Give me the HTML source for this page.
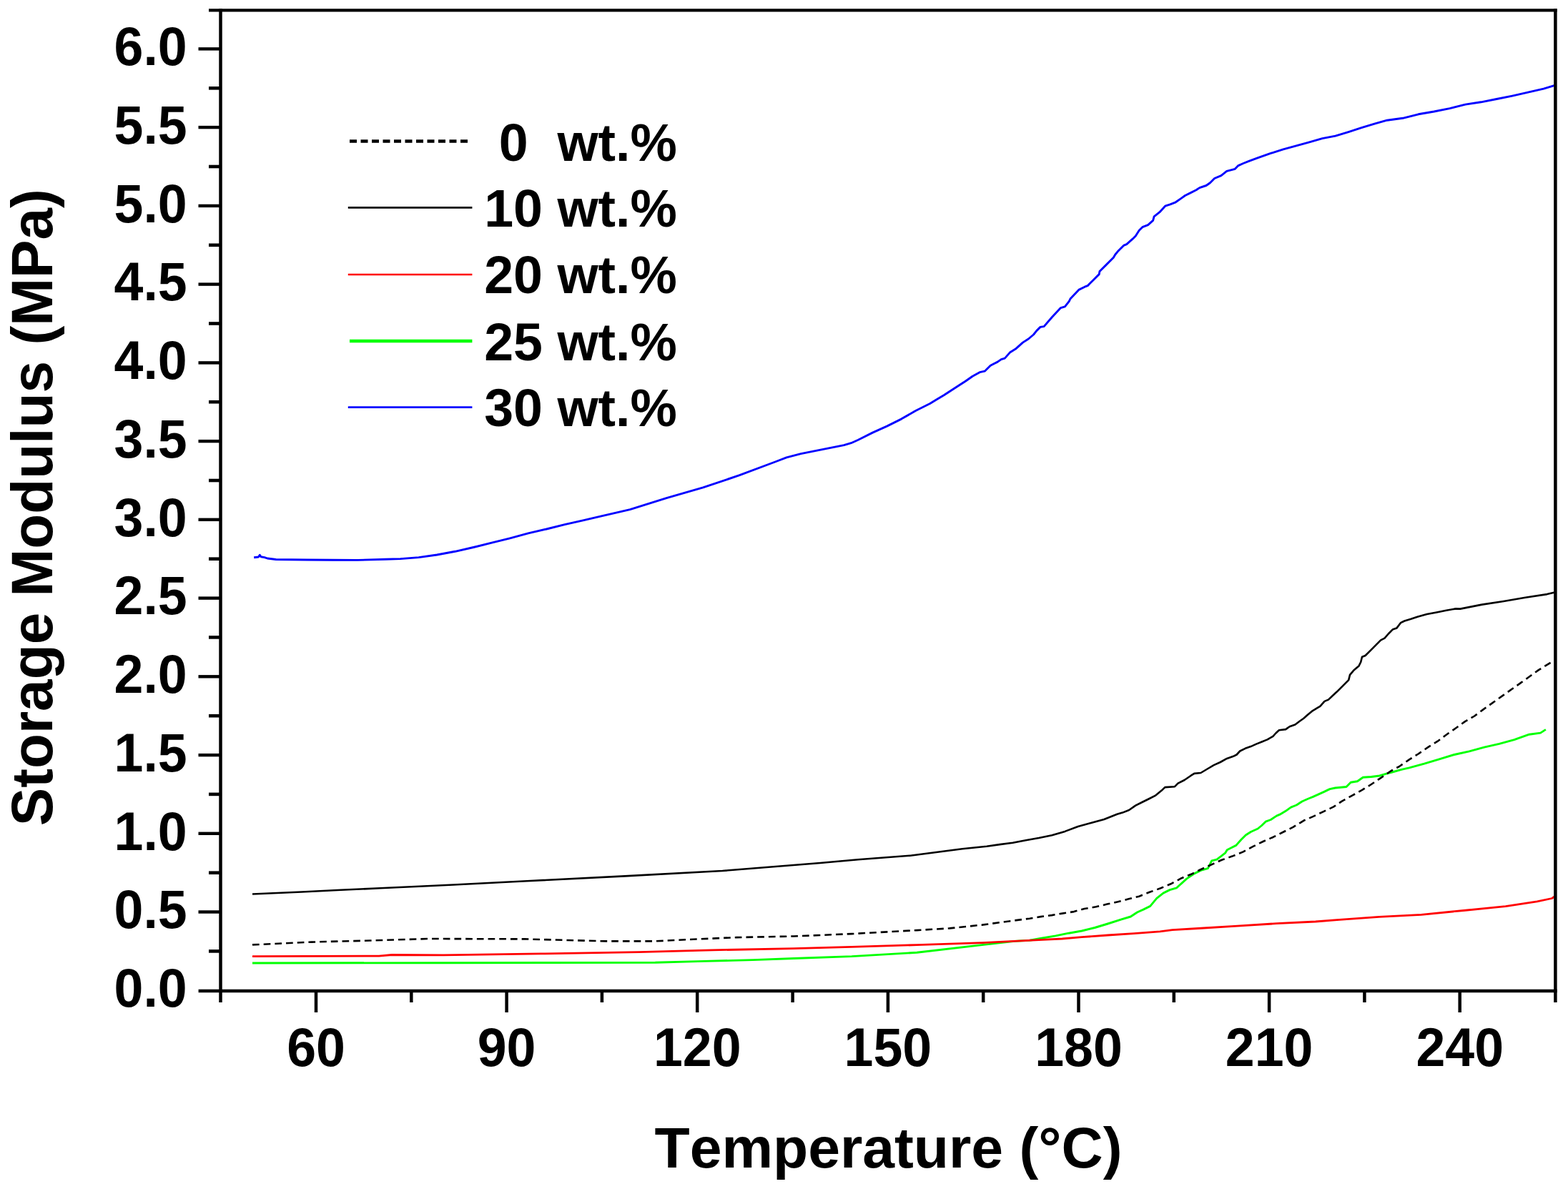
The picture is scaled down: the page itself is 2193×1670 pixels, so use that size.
<!DOCTYPE html>
<html><head><meta charset="utf-8"><title>Storage Modulus vs Temperature</title>
<style>
html,body{margin:0;padding:0;background:#fff;}
body{width:2193px;height:1670px;overflow:hidden;}
svg{display:block;}
text{font-family:"Liberation Sans",Arial,sans-serif;font-weight:bold;fill:#000;font-kerning:none;}
</style></head><body>
<svg width="2193" height="1670" viewBox="0 0 2193 1670">
<rect x="0" y="0" width="2193" height="1670" fill="#fff"/>
<g fill="none" stroke-linejoin="round" stroke-linecap="butt">
<polyline stroke="#00ff00" stroke-width="2.9" points="353.0,1347.0 620.0,1346.7 916.4,1346.2 984.8,1344.4 1053.2,1342.6 1110.0,1340.5 1191.2,1337.6 1282.4,1332.3 1373.6,1321.6 1419.2,1316.4 1440.0,1315.2 1458.2,1312.0 1476.5,1308.9 1494.7,1305.2 1513.0,1302.0 1531.2,1297.5 1549.4,1292.0 1567.7,1286.1 1581.4,1282.0 1590.5,1276.0 1599.6,1271.9 1608.7,1267.4 1617.8,1256.4 1627.0,1249.1 1636.1,1244.6 1645.7,1241.8 1659.6,1229.1 1670.4,1221.9 1679.4,1217.4 1689.3,1214.7 1692.0,1209.3 1694.7,1203.9 1701.8,1202.1 1709.0,1196.7 1713.5,1193.2 1716.2,1188.7 1721.6,1186.0 1728.8,1182.4 1736.0,1174.3 1742.3,1168.0 1749.4,1163.5 1759.3,1159.0 1764.7,1154.5 1770.1,1149.2 1777.3,1146.5 1785.4,1141.1 1790.0,1139.2 1797.8,1134.6 1805.5,1129.1 1813.3,1126.0 1821.0,1121.0 1828.8,1117.5 1836.5,1114.4 1844.3,1110.9 1852.0,1107.4 1859.8,1103.6 1867.5,1102.0 1875.3,1101.2 1883.0,1100.5 1889.2,1094.3 1898.5,1092.7 1906.3,1087.3 1917.9,1086.5 1929.5,1085.0 1937.3,1082.6 1948.9,1079.5 1960.0,1076.4 1971.0,1073.9 1992.0,1068.1 2012.9,1061.8 2033.9,1055.5 2054.9,1050.8 2075.9,1045.1 2096.8,1040.3 2117.8,1034.6 2138.8,1027.2 2154.5,1025.1 2161.9,1020.4"/>
<polyline stroke="#ff0000" stroke-width="2.8" points="353.0,1337.7 530.0,1337.1 548.0,1335.5 620.0,1335.8 756.8,1333.9 893.6,1331.7 996.2,1328.9 1110.0,1326.6 1191.2,1324.4 1282.4,1321.6 1373.6,1318.7 1458.2,1314.3 1485.6,1313.0 1513.0,1310.7 1549.4,1308.0 1585.9,1305.7 1622.4,1302.9 1639.7,1300.6 1675.8,1298.5 1730.5,1295.1 1785.2,1291.7 1839.9,1289.0 1870.0,1286.7 1928.9,1282.3 1987.8,1279.3 2046.8,1273.5 2105.7,1267.6 2149.9,1260.9 2170.5,1256.5 2174.5,1253.6"/>
<polyline stroke="#000" stroke-width="2.6" stroke-dasharray="9.7 6" points="353.0,1321.4 435.8,1317.6 517.8,1315.5 600.0,1313.0 734.0,1313.4 802.4,1315.2 848.0,1316.4 916.4,1316.4 962.0,1314.1 1030.4,1311.1 1110.0,1309.5 1191.2,1306.1 1282.4,1301.1 1328.0,1298.4 1373.6,1293.6 1419.2,1287.4 1440.0,1284.7 1455.5,1282.1 1471.0,1280.1 1485.6,1277.6 1502.0,1275.1 1516.6,1271.0 1533.0,1268.3 1548.5,1264.6 1563.6,1261.2 1578.6,1257.3 1593.2,1253.7 1607.8,1247.8 1623.3,1242.3 1637.5,1236.3 1652.5,1228.2 1665.9,1222.8 1678.5,1216.5 1696.5,1208.4 1708.1,1203.0 1723.4,1197.6 1738.7,1191.4 1752.1,1184.2 1766.5,1177.0 1780.9,1170.7 1795.2,1163.5 1808.5,1156.9 1823.3,1147.8 1837.3,1141.6 1850.5,1135.3 1865.2,1128.4 1876.8,1120.6 1890.8,1112.9 1904.7,1105.1 1917.9,1097.0 1931.1,1088.1 1945.8,1078.0 1957.4,1071.8 1971.0,1062.4 1983.6,1054.5 1997.2,1045.1 2010.8,1036.7 2023.4,1027.2 2037.0,1017.8 2048.6,1009.4 2062.2,1001.5 2074.8,992.1 2101.4,973.1 2127.2,954.9 2151.5,937.4 2170.0,926.0"/>
<polyline stroke="#000" stroke-width="2.6" points="353.0,1250.5 422.0,1247.5 476.8,1244.8 531.5,1242.3 586.2,1239.8 634.1,1237.5 736.8,1232.2 873.6,1225.4 1010.4,1218.0 1147.2,1207.0 1200.0,1202.2 1273.0,1196.7 1345.9,1187.2 1380.0,1183.8 1398.2,1181.1 1416.5,1178.8 1434.7,1175.2 1453.0,1172.0 1471.2,1168.3 1489.4,1162.9 1507.7,1156.0 1525.9,1151.0 1544.2,1146.0 1562.4,1138.7 1570.0,1136.6 1579.1,1133.0 1588.2,1126.6 1597.4,1122.0 1606.5,1117.5 1615.6,1112.9 1624.7,1105.6 1629.3,1101.1 1643.0,1100.2 1647.5,1095.6 1656.6,1091.0 1665.8,1084.7 1670.3,1081.9 1679.4,1081.0 1688.6,1075.5 1697.7,1070.1 1706.8,1066.0 1715.9,1060.9 1725.0,1057.8 1729.6,1055.5 1734.2,1050.5 1741.6,1046.8 1749.4,1044.1 1757.1,1040.6 1764.9,1037.5 1772.6,1034.4 1780.4,1029.8 1784.3,1025.5 1788.9,1021.2 1798.2,1020.1 1803.6,1016.2 1811.4,1013.5 1817.6,1008.8 1823.0,1005.0 1829.2,999.5 1834.7,994.9 1842.4,990.2 1846.3,987.9 1852.5,980.9 1857.9,978.6 1865.7,971.2 1870.0,967.3 1879.0,958.3 1886.2,951.1 1888.0,943.9 1893.3,937.6 1900.5,931.4 1903.2,926.0 1905.0,918.8 1909.5,917.0 1916.7,909.8 1923.9,902.6 1931.1,895.4 1936.5,892.7 1941.8,886.5 1948.1,880.2 1953.5,878.4 1958.9,871.2 1964.3,868.5 1973.3,865.8 1982.3,862.7 1995.7,859.1 2009.2,856.4 2022.7,853.7 2036.1,851.4 2042.2,851.6 2072.6,845.6 2102.9,841.0 2133.3,835.7 2163.7,831.1 2174.5,828.5"/>
<polyline stroke="#0000ff" stroke-width="2.9" points="355.2,779.8 361.5,779.0 363.3,776.3 365.0,778.8 370.0,779.6 374.0,781.0 386.0,782.5 430.0,783.0 466.0,783.2 500.0,783.4 538.8,782.3 560.0,781.6 585.5,779.6 611.1,776.0 636.6,771.3 662.1,765.5 687.7,759.2 713.2,752.8 738.8,745.8 764.3,740.0 789.8,733.6 815.4,727.9 840.0,722.1 881.1,712.6 932.1,696.6 983.2,681.9 1034.3,664.7 1085.4,645.5 1100.0,639.8 1120.1,634.7 1140.1,630.7 1160.2,626.7 1180.3,622.7 1190.3,619.7 1200.3,615.2 1220.4,605.1 1240.4,596.1 1260.5,586.1 1280.6,574.5 1300.6,564.5 1310.0,558.8 1320.1,552.8 1330.1,546.3 1340.1,539.8 1350.2,533.2 1360.2,526.2 1370.2,520.7 1377.2,519.2 1385.3,511.2 1395.3,506.1 1400.3,502.6 1405.3,501.1 1412.4,493.1 1420.4,488.1 1430.4,479.1 1438.4,474.0 1445.5,468.0 1450.0,462.4 1455.0,457.4 1460.1,456.6 1471.0,444.0 1483.5,430.6 1489.4,428.9 1495.3,421.4 1496.9,418.0 1508.7,405.4 1517.1,401.2 1521.2,399.6 1529.6,391.2 1537.2,383.6 1538.0,379.5 1546.4,371.1 1557.3,360.2 1559.8,356.0 1563.2,351.8 1571.5,343.4 1575.7,341.7 1584.1,334.2 1588.3,330.0 1593.2,322.3 1597.8,317.7 1605.6,314.6 1612.6,308.4 1614.1,302.9 1621.9,296.7 1629.6,288.2 1636.6,285.9 1644.3,282.8 1652.1,277.4 1657.5,273.5 1665.3,269.6 1673.0,265.7 1677.7,262.6 1687.0,259.5 1692.4,255.7 1698.6,249.5 1707.9,245.6 1715.7,239.4 1727.3,236.3 1731.9,231.6 1738.9,228.5 1746.7,225.4 1758.2,221.1 1776.5,214.7 1794.7,208.8 1813.0,203.8 1831.2,198.8 1849.4,193.7 1867.7,190.1 1885.9,184.6 1904.2,178.7 1922.4,173.2 1940.0,168.2 1961.9,165.3 1983.8,159.8 2005.7,156.0 2027.6,151.6 2049.4,146.1 2071.3,142.8 2093.2,138.5 2115.1,134.1 2137.0,129.2 2158.9,124.2 2174.5,119.3"/>
</g>
<g stroke="#000" stroke-linecap="butt" fill="none">
<line x1="308.5" y1="12.3" x2="308.5" y2="1402" stroke-width="4.5"/>
<line x1="2175.4" y1="12.3" x2="2175.4" y2="1402" stroke-width="4.5"/>
<line x1="292" y1="14.4" x2="2177.65" y2="14.4" stroke-width="4.3"/>
<line x1="277.6" y1="1386.0" x2="2177.65" y2="1386.0" stroke-width="4.5"/>
<line x1="292" y1="1330.4" x2="308.5" y2="1330.4" stroke-width="4.6"/>
<line x1="277.5" y1="1275.5" x2="308.5" y2="1275.5" stroke-width="4.4"/>
<line x1="292" y1="1220.7" x2="308.5" y2="1220.7" stroke-width="4.6"/>
<line x1="277.5" y1="1165.8" x2="308.5" y2="1165.8" stroke-width="4.4"/>
<line x1="292" y1="1110.9" x2="308.5" y2="1110.9" stroke-width="4.6"/>
<line x1="277.5" y1="1056.1" x2="308.5" y2="1056.1" stroke-width="4.4"/>
<line x1="292" y1="1001.2" x2="308.5" y2="1001.2" stroke-width="4.6"/>
<line x1="277.5" y1="946.3" x2="308.5" y2="946.3" stroke-width="4.4"/>
<line x1="292" y1="891.4" x2="308.5" y2="891.4" stroke-width="4.6"/>
<line x1="277.5" y1="836.6" x2="308.5" y2="836.6" stroke-width="4.4"/>
<line x1="292" y1="781.7" x2="308.5" y2="781.7" stroke-width="4.6"/>
<line x1="277.5" y1="726.8" x2="308.5" y2="726.8" stroke-width="4.4"/>
<line x1="292" y1="672.0" x2="308.5" y2="672.0" stroke-width="4.6"/>
<line x1="277.5" y1="617.1" x2="308.5" y2="617.1" stroke-width="4.4"/>
<line x1="292" y1="562.2" x2="308.5" y2="562.2" stroke-width="4.6"/>
<line x1="277.5" y1="507.4" x2="308.5" y2="507.4" stroke-width="4.4"/>
<line x1="292" y1="452.5" x2="308.5" y2="452.5" stroke-width="4.6"/>
<line x1="277.5" y1="397.6" x2="308.5" y2="397.6" stroke-width="4.4"/>
<line x1="292" y1="342.8" x2="308.5" y2="342.8" stroke-width="4.6"/>
<line x1="277.5" y1="287.9" x2="308.5" y2="287.9" stroke-width="4.4"/>
<line x1="292" y1="233.0" x2="308.5" y2="233.0" stroke-width="4.6"/>
<line x1="277.5" y1="178.1" x2="308.5" y2="178.1" stroke-width="4.4"/>
<line x1="292" y1="123.3" x2="308.5" y2="123.3" stroke-width="4.6"/>
<line x1="277.5" y1="68.4" x2="308.5" y2="68.4" stroke-width="4.4"/>
<line x1="442.0" y1="1386.0" x2="442.0" y2="1416" stroke-width="4.5"/>
<line x1="708.6" y1="1386.0" x2="708.6" y2="1416" stroke-width="4.5"/>
<line x1="975.2" y1="1386.0" x2="975.2" y2="1416" stroke-width="4.5"/>
<line x1="1241.9" y1="1386.0" x2="1241.9" y2="1416" stroke-width="4.5"/>
<line x1="1508.5" y1="1386.0" x2="1508.5" y2="1416" stroke-width="4.5"/>
<line x1="1775.1" y1="1386.0" x2="1775.1" y2="1416" stroke-width="4.5"/>
<line x1="2041.7" y1="1386.0" x2="2041.7" y2="1416" stroke-width="4.5"/>
<line x1="575.3" y1="1386.0" x2="575.3" y2="1402" stroke-width="4.5"/>
<line x1="841.9" y1="1386.0" x2="841.9" y2="1402" stroke-width="4.5"/>
<line x1="1108.6" y1="1386.0" x2="1108.6" y2="1402" stroke-width="4.5"/>
<line x1="1375.2" y1="1386.0" x2="1375.2" y2="1402" stroke-width="4.5"/>
<line x1="1641.8" y1="1386.0" x2="1641.8" y2="1402" stroke-width="4.5"/>
<line x1="1908.4" y1="1386.0" x2="1908.4" y2="1402" stroke-width="4.5"/>
</g>
<text transform="translate(261.7,91.1) scale(0.967,1)" text-anchor="end" font-size="76">6.0</text>
<text transform="translate(261.7,200.8) scale(0.967,1)" text-anchor="end" font-size="76">5.5</text>
<text transform="translate(261.7,310.6) scale(0.967,1)" text-anchor="end" font-size="76">5.0</text>
<text transform="translate(261.7,420.3) scale(0.967,1)" text-anchor="end" font-size="76">4.5</text>
<text transform="translate(261.7,530.1) scale(0.967,1)" text-anchor="end" font-size="76">4.0</text>
<text transform="translate(261.7,639.8) scale(0.967,1)" text-anchor="end" font-size="76">3.5</text>
<text transform="translate(261.7,749.5) scale(0.967,1)" text-anchor="end" font-size="76">3.0</text>
<text transform="translate(261.7,859.3) scale(0.967,1)" text-anchor="end" font-size="76">2.5</text>
<text transform="translate(261.7,969.0) scale(0.967,1)" text-anchor="end" font-size="76">2.0</text>
<text transform="translate(261.7,1078.8) scale(0.967,1)" text-anchor="end" font-size="76">1.5</text>
<text transform="translate(261.7,1188.5) scale(0.967,1)" text-anchor="end" font-size="76">1.0</text>
<text transform="translate(261.7,1298.2) scale(0.967,1)" text-anchor="end" font-size="76">0.5</text>
<text transform="translate(261.7,1408.0) scale(0.967,1)" text-anchor="end" font-size="76">0.0</text>
<text transform="translate(442.0,1490.6) scale(0.967,1)" text-anchor="middle" font-size="76">60</text>
<text transform="translate(708.6,1490.6) scale(0.967,1)" text-anchor="middle" font-size="76">90</text>
<text transform="translate(975.2,1490.6) scale(0.967,1)" text-anchor="middle" font-size="76">120</text>
<text transform="translate(1241.9,1490.6) scale(0.967,1)" text-anchor="middle" font-size="76">150</text>
<text transform="translate(1508.5,1490.6) scale(0.967,1)" text-anchor="middle" font-size="76">180</text>
<text transform="translate(1775.1,1490.6) scale(0.967,1)" text-anchor="middle" font-size="76">210</text>
<text transform="translate(2041.7,1490.6) scale(0.967,1)" text-anchor="middle" font-size="76">240</text>
<line x1="489" y1="197.5" x2="656" y2="197.5" stroke="#000" stroke-width="4.7" stroke-dasharray="10 5.5"/>
<text transform="translate(946.8,224.5) scale(0.98,1)" text-anchor="end" font-size="75" style="white-space:pre" xml:space="preserve">0  wt.%</text>
<line x1="486.8" y1="290.3" x2="660.4" y2="290.3" stroke="#000" stroke-width="2.7"/>
<text transform="translate(946.8,316.9) scale(0.98,1)" text-anchor="end" font-size="75" style="white-space:pre" xml:space="preserve">10 wt.%</text>
<line x1="486.8" y1="384.0" x2="660.4" y2="384.0" stroke="#ff0000" stroke-width="2.7"/>
<text transform="translate(946.8,410.2) scale(0.98,1)" text-anchor="end" font-size="75" style="white-space:pre" xml:space="preserve">20 wt.%</text>
<line x1="489" y1="477.0" x2="660.4" y2="477.0" stroke="#00ff00" stroke-width="4.5"/>
<text transform="translate(946.8,503.6) scale(0.98,1)" text-anchor="end" font-size="75" style="white-space:pre" xml:space="preserve">25 wt.%</text>
<line x1="486.8" y1="569.7" x2="660.4" y2="569.7" stroke="#0000ff" stroke-width="2.7"/>
<text transform="translate(946.8,596.3) scale(0.98,1)" text-anchor="end" font-size="75" style="white-space:pre" xml:space="preserve">30 wt.%</text>
<text transform="translate(915.5,1632.5)" font-size="80.5">Temperature (°C)</text>
<text transform="translate(72.8,1155.3) rotate(-90) scale(1,1.01)" font-size="80.2">Storage Modulus (MPa)</text>
</svg>
</body></html>
